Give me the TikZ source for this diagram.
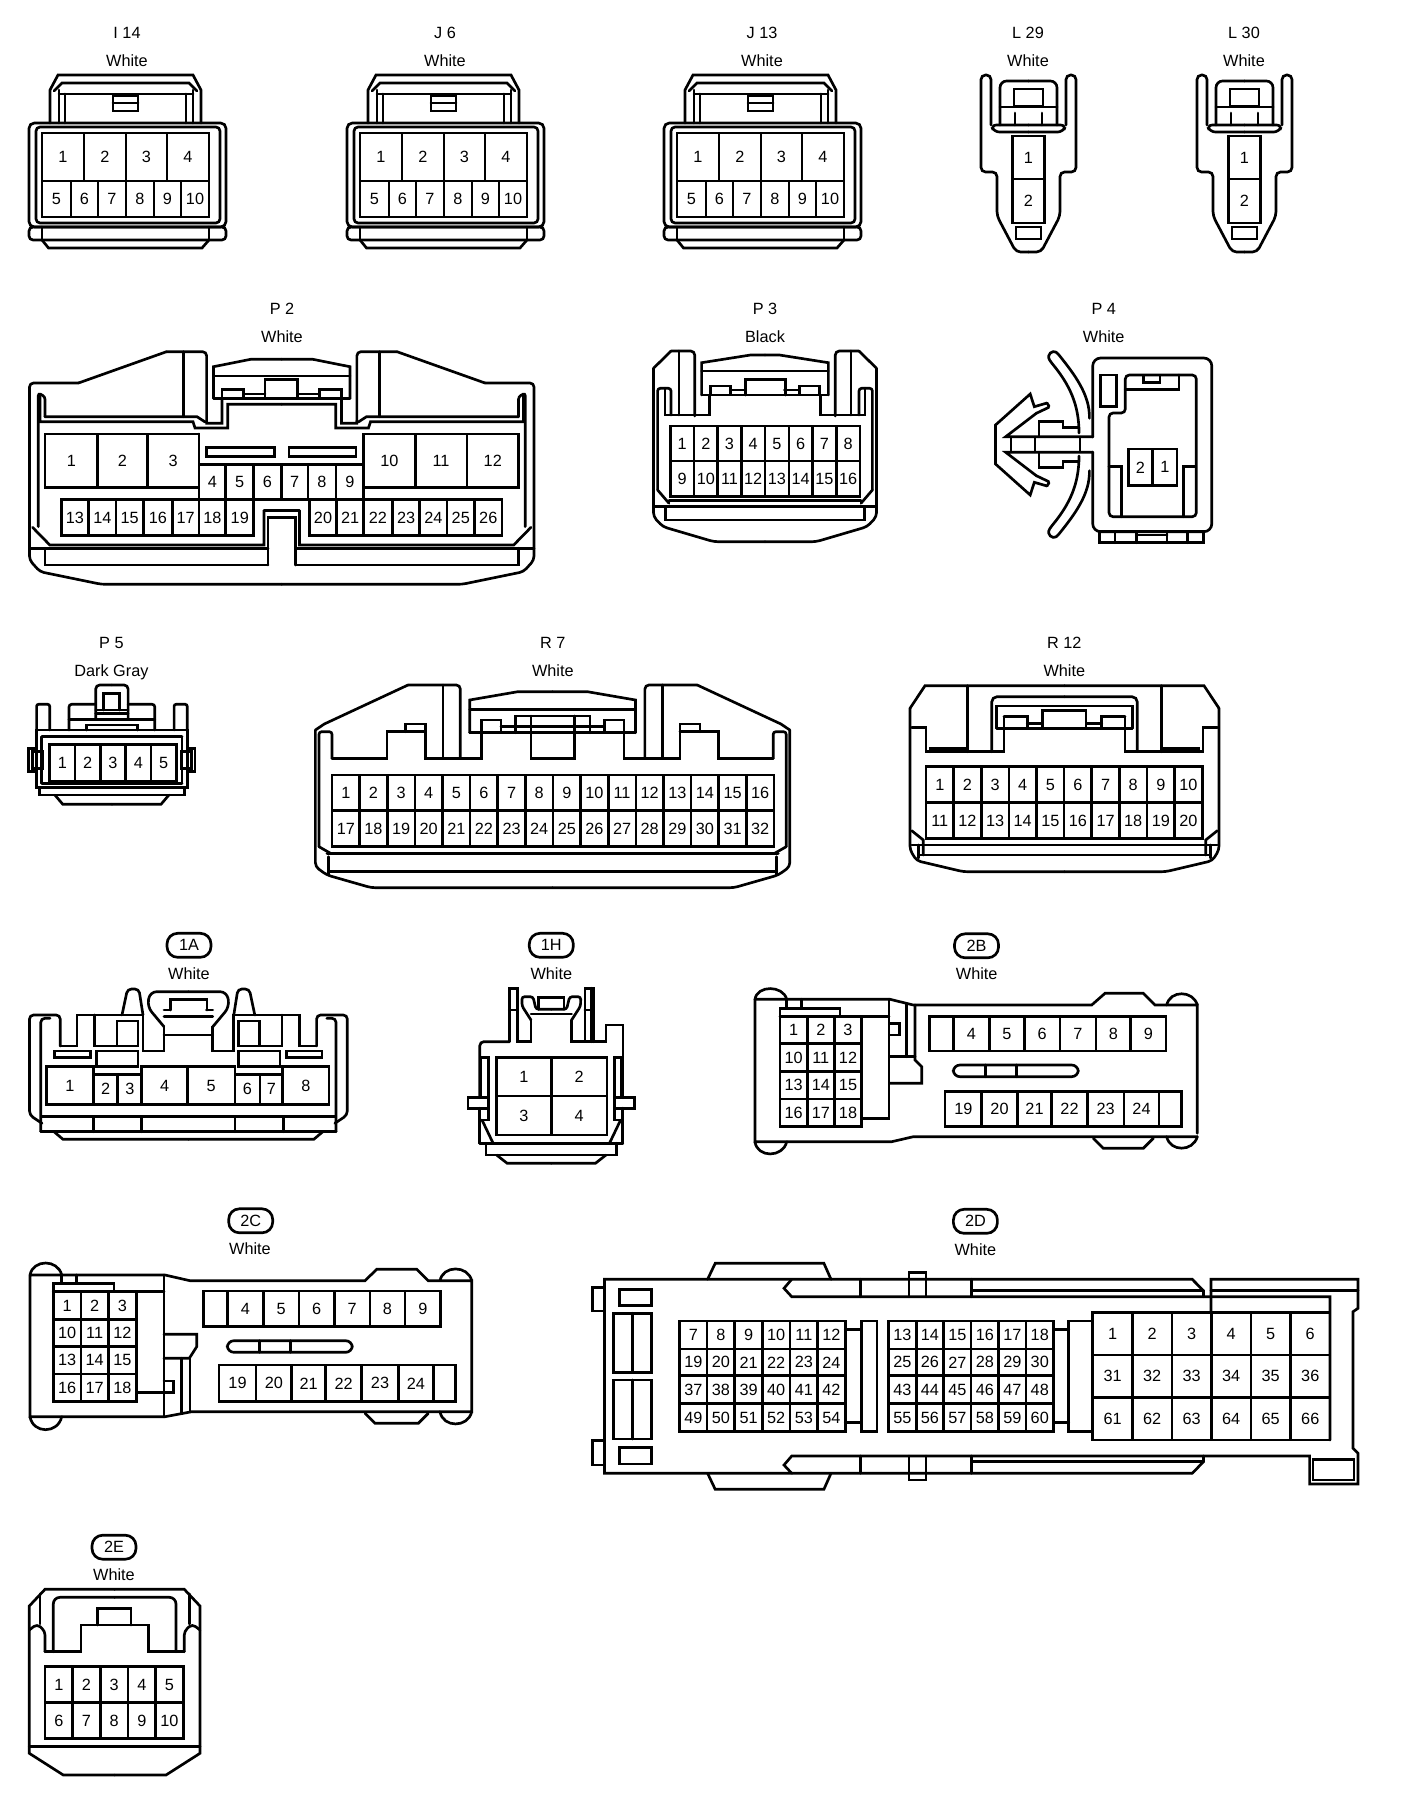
\documentclass[tikz,border=0pt]{standalone}
\usepackage{fontspec}
\setmainfont{Liberation Sans}
\tikzset{
  pin/.style={inner sep=0pt,font=\fontsize{12.2}{14}\selectfont,text=black},
  ttl/.style={inner sep=0pt,font=\fontsize{12.2}{14}\selectfont,text=black,text height=8.8pt,text depth=0pt},
  pill/.style={draw,rounded corners=8pt,inner sep=0pt,minimum width=33pt,minimum height=18pt,font=\fontsize{12.2}{14}\selectfont},
  mirrorat/.style={shift={(#1,0)},xscale=-1},
  mirrory/.style={shift={(0,#1)},yscale=-1},
  conn/.style={line width=2pt,line cap=round,line join=miter,x=0.75pt,y=-0.75pt}
}
\newcommand{\both}[2]{#2\begin{scope}[mirrorat=#1]#2\end{scope}}
\newcommand{\bothy}[2]{#2\begin{scope}[mirrory=#1]#2\end{scope}}
\newcommand{\cells}[3]{\pgfmathsetmacro\cmid{(#1+#2)/2}\foreach \a/\b/\l in {#3}{\pgfmathsetmacro\mx{(\a+\b)/2}\draw (\a,#1) rectangle (\b,#2); \node[pin] (\cname-\l) at (\mx,\cmid) {\l};}}
\newcommand{\ucells}[6]{\pgfmathsetmacro\cmid{(#3+#4)/2}\pgfmathsetmacro\cw{(#2-#1)/#5}\foreach \l [count=\i] in {#6}{\pgfmathsetmacro\xa{#1+(\i-1)*\cw}\pgfmathsetmacro\xb{#1+\i*\cw}\pgfmathsetmacro\mx{#1+(\i-0.5)*\cw}\draw (\xa,#3) rectangle (\xb,#4); \node[pin] (\cname-\l) at (\mx,\cmid) {\l};}}
\newcommand{\phdr}[4]{\node[pill] (#1-id) at (#2,#3) {#4};}
\newcommand{\tenconn}[3]{\begin{scope}[shift={(#2,0)}]\def\cname{#1}
\node[ttl] (#1-id) at (127,33) {#3};
\node[ttl] (#1-col) at (127,61) {White};
\draw (50,123)--(50,90)--(58,75)--(193,75)--(201,90)--(201,123);
\draw (54,91)--(62,83)--(189,83)--(197,91);
\draw (59,123)--(59,90) (65,123)--(65,94) (186,123)--(186,94) (193,123)--(193,90);
\draw (59,94)--(193,94);
\draw (113,96) rectangle (138,111) (113,103)--(138,103);
\draw[rounded corners=4pt] (29,123) rectangle (226,227);
\draw[rounded corners=3pt] (36,127) rectangle (220,223);
\draw[rounded corners=3pt] (29,227) rectangle (226,240);
\draw (42,227)--(42,240) (209,227)--(209,240);
\draw (42,240)--(48.5,248)--(202,248)--(209,240);
\cells{133}{181}{42/84/1,84/126/2,126/167/3,167/209/4}
\cells{181}{217}{42/71/5,71/98/6,98/126/7,126/154/8,154/181/9,181/209/10}
\end{scope}}
\newcommand{\lconn}[3]{\begin{scope}[shift={(#2,0)}]\def\cname{#1}
\node[ttl] (#1-id) at (1028,33) {#3};
\node[ttl] (#1-col) at (1028,61) {White};
\both{2057}{
\draw[rounded corners=3.4pt] (1028.5,252)--(1016,252)--(997,216)--(997,172)--(981,172)--(981,75)--(991,75)--(991,125);
\draw[rounded corners=4pt] (1028.5,125)--(991,125)--(994,132)--(1028.5,132);
\draw[rounded corners=5pt] (1000,125)--(1000,81)--(1028.5,81);
\draw (1015,113)--(1015,125);
\draw (1000,107)--(1028.5,107);
}
\draw (1014,89) rectangle (1043,106);
\cells{136}{179}{1012.5/1044.4/1}
\cells{179}{223}{1012.5/1044.4/2}
\draw (1016,227) rectangle (1041,239);
\end{scope}}
\begin{document}
\begin{tikzpicture}[conn]
\fill[white] (0,0) rectangle (1408,1798);
\useasboundingbox (0,0) rectangle (1408,1798);
% ---- row 1
\tenconn{I14}{0}{I 14}
\tenconn{J6}{318}{J 6}
\tenconn{J13}{635}{J 13}
\lconn{L29}{0}{L 29}
\lconn{L30}{216}{L 30}
% ---- P2
\def\cname{P2}
\node[ttl] (P2-id) at (282,309) {P 2};
\node[ttl] (P2-col) at (282,337) {White};
\both{563.5}{
\draw[rounded corners=3pt] (281.75,584.3)--(101.4,584.3)--(40,571.7)--(29.5,560)--(29.5,383)--(78.5,383);
\draw (78.5,383)--(166.5,351.7);
\draw[rounded corners=3pt] (166.5,351.7)--(206.6,351.7)--(206.6,421.7);
\draw (183.7,351.7)--(183.7,416.7);
\draw[rounded corners=2pt] (38.3,526.7)--(38.3,393)--(45,396.7)--(45,416.7);
\draw (40,396)--(40,421.7)--(193,421.7)--(195,428)--(227.7,428)--(227.7,404.3)--(281.75,404.3);
\draw (45,416.7)--(197,416.7)--(204.7,421.7)--(206.6,421.7)--(206.6,423.3)--(222,423.3)--(222,398.3);
\draw (213.5,398.3)--(213.5,366.7)--(250.7,359.3)--(281.75,359.3);
\draw (213.5,376)--(281.75,376);
\draw (213.5,398.3)--(281.75,398.3);
\draw (222,389.3) rectangle (243.8,398.3);
\draw (243.8,394)--(265,394);
\draw (264,510.7)--(281.75,510.7);
\draw (264,510.7)--(264,545)--(49.8,545)--(32.5,527.3);
\draw (268,565)--(268,517.3)--(281.75,517.3);
\draw (29.5,548.3)--(268,548.3);
\draw (45,548.3)--(45,565)--(268,565);
}
\draw (265,398.3)--(265,379.3)--(297.7,379.3)--(297.7,398.3);
\draw (206.6,447.7) rectangle (274.4,456.7);
\draw (289,447.7) rectangle (356,456.7);
\cells{434}{487.3}{45/97.6/1,97.6/147.3/2,147.3/199/3}
\cells{434}{487.3}{363.6/415.2/10,415.2/466.9/11,466.9/518.6/12}
\draw (199,434)--(199,464.3)--(363.6,464.3);
\cells{464.3}{499.3}{199/225.8/4,225.8/253.7/5,253.7/281.3/6,281.3/308/7,308/336/8,336/363.6/9}
\cells{499.3}{535.7}{61.2/88.8/13,88.8/116/14,116/143.5/15,143.5/172.2/16,172.2/199/17,199/225.8/18,225.8/253.7/19}
\cells{499.3}{535.7}{309.2/336.8/20,336.8/363.6/21,363.6/392.3/22,392.3/419.8/23,419.8/447/24,447/474.5/25,474.5/502/26}
% ---- P3
\def\cname{P3}
\node[ttl] (P3-id) at (765,309) {P 3};
\node[ttl] (P3-col) at (765,337) {Black};
\both{1530}{
\draw[rounded corners=3pt] (765,541.7)--(713.9,541.7)--(662.9,526.7)--(653.5,516.7)--(653.5,368.3);
\draw (653.5,368.3)--(671,351);
\draw[rounded corners=3pt] (671,351)--(694.7,351)--(694.7,416);
\draw (679,351)--(679,415);
\draw[rounded corners=2pt] (657.6,490)--(657.6,388.3)--(671,388.3)--(671,415);
\draw (664.9,388.3)--(664.9,415)--(709.8,415)--(709.8,395);
\draw (657.6,490)--(669,503.3);
\draw (701.6,395)--(701.6,362.7)--(750.6,355)--(765,355);
\draw (701.6,371)--(765,371);
\draw (701.6,395)--(765,395);
\draw (710.6,386) rectangle (730.2,395);
\draw (730.2,390)--(745.7,390);
\draw (653.5,506.7)--(765,506.7);
\draw (665.7,506.7)--(665.7,520)--(765,520);
\draw (669,500.7)--(765,500.7);
}
\draw (745.7,395)--(745.7,379.3)--(785.3,379.3)--(785.3,395);
\ucells{670.2}{860}{426}{461}{8}{1,...,8}
\ucells{670.2}{860}{461}{496.7}{8}{9,...,16}
% ---- P4
\def\cname{P4}
\node[ttl] (P4-id) at (1103.7,309) {P 4};
\node[ttl] (P4-col) at (1103.7,337) {White};
\bothy{889}{
\draw[rounded corners=1.5pt] (1079,433) .. controls (1079,405) and (1070,385) .. (1050.6,361.7) .. controls (1046,354) and (1053,350) .. (1057.6,353.3) .. controls (1075,375) and (1090,395) .. (1089.4,418.3);
\draw (995.5,444.5)--(995.5,425)--(1030.2,394)--(1034.3,406.7)--(1047,403);
\draw[rounded corners=1pt] (1047,403)--(1049.5,407)--(1036.3,413.3);
\draw (1036.3,413.3)--(1005.7,436.7)--(1092.7,436.7);
\draw (1039,436.7)--(1039,421.7)--(1062.9,421.7)--(1062.9,427.3)--(1079,427.3);
}
\draw[rounded corners=6pt] (1092.7,437)--(1092.7,358)--(1211.8,358)--(1211.8,531.7)--(1092.7,531.7)--(1092.7,452);
\draw (1011,437)--(1011,452) (1035,437)--(1035,452) (1080,437)--(1080,452);
\draw[rounded corners=3pt] (1125.3,389)--(1125.3,375)--(1196.3,375)--(1196.3,516.7)--(1109,516.7)--(1109,413)--(1125.3,413)--(1125.3,389);
\draw (1125.3,389.3)--(1179,389.3)--(1179,375);
\draw (1100.8,375) rectangle (1116.7,406.7);
\draw (1143.7,376)--(1143.7,382.3)--(1160,382.3)--(1160,376);
\draw (1109,466.7)--(1121.2,466.7)--(1121.2,516.7);
\draw (1195.5,466.7)--(1183.3,466.7)--(1183.3,516.7);
\cells{449}{485.7}{1128.2/1152.7/2,1152.7/1177/1}
\draw (1099.6,531.7) rectangle (1203.7,542.7);
\draw (1115,531.7)--(1115,542.7) (1136.3,531.7)--(1136.3,542.7) (1167,531.7)--(1167,542.7) (1187.3,531.7)--(1187.3,542.7);
\draw (1136.3,535)--(1167,535);
% ---- P5
\def\cname{P5}
\node[ttl] (P5-id) at (111.4,642.7) {P 5};
\node[ttl] (P5-col) at (111.4,670.7) {Dark Gray};
\both{223.8}{
\draw (111.9,730)--(36.6,730)--(36.6,787.7)--(111.9,787.7);
\draw (41.8,736.7)--(41.8,783.3) (41.8,736.7)--(111.9,736.7) (41.8,783.3)--(111.9,783.3);
\draw (28.8,748.3) rectangle (36.6,771.7);
\draw (32.4,751.7) rectangle (42.9,768.3);
\draw (39.2,787.7)--(39.2,795)--(111.9,795);
\draw (54.9,795)--(62.8,804.3)--(111.9,804.3);
\draw[rounded corners=1.5pt] (36.6,730)--(36.6,704.3)--(49.7,704.3)--(49.7,730);
\draw[rounded corners=2pt] (69,730)--(69,704.3)--(95.7,704.3);
\draw (69,719.3)--(111.9,719.3);
\draw[rounded corners=3pt] (95.7,719.3)--(95.7,685)--(111.9,685);
\draw (86.3,730)--(86.3,725)--(111.9,725);
\draw (95.7,710)--(111.9,710);
\draw (95.7,713.3)--(111.9,713.3);
}
\draw (103.6,710)--(103.6,693.3)--(119.2,693.3)--(119.2,710);
\ucells{49.7}{176.3}{744.3}{781}{5}{1,...,5}
% ---- R7
\def\cname{R7}
\node[ttl] (R7-id) at (552.8,642.7) {R 7};
\node[ttl] (R7-col) at (552.8,670.7) {White};
\both{1105.2}{
\draw[rounded corners=3pt] (552.6,887.7)--(371.3,887.7)--(326.9,875)--(315.4,866.7)--(315.4,730);
\draw (315.4,730)--(324.3,724)--(408,685);
\draw[rounded corners=3pt] (408,685)--(460.3,685)--(460.3,757.3);
\draw (443,685)--(443,757.3);
\draw[rounded corners=2pt] (319,846.7)--(319,731.7)--(332,731.7)--(332,758.3);
\draw (332,758.3)--(387,758.3)--(387,731.7)--(425.2,731.7);
\draw (405.3,731.7)--(405.3,724)--(425.2,724)--(425.2,758.3)--(481.2,758.3)--(481.2,732.7);
\draw (469.7,732.7)--(469.7,700)--(517.8,691.7)--(552.6,691.7);
\draw (469.7,709.3)--(552.6,709.3);
\draw (469.7,732.7)--(515.2,732.7);
\draw (481.2,720) rectangle (501,732.7);
\draw (501,726.7)--(515.2,726.7);
\draw (515.2,732.7)--(515.2,716)--(552.6,716);
\draw (530.9,716)--(530.9,758.3)--(552.6,758.3);
\draw (515.2,726.7)--(552.6,726.7);
\draw (515.2,732.7)--(552.6,732.7);
\draw (319,846.7)--(330.5,853.3);
\draw (327,853.3)--(552.6,853.3);
\draw (328.5,856.7)--(328.5,875);
\draw (328.5,871.7)--(552.6,871.7);
}
\ucells{332}{774}{775}{810.7}{16}{1,...,16}
\ucells{332}{774}{810.7}{846.7}{16}{17,...,32}
% ---- R12
\def\cname{R12}
\node[ttl] (R12-id) at (1064.3,643) {R 12};
\node[ttl] (R12-col) at (1064.3,670.5) {White};
\both{2129}{
\draw[rounded corners=3pt] (1064.5,871.7)--(963.3,871.7)--(916.7,860.7)--(910,850)--(910,708.3);
\draw (910,708.3)--(925,685.7)--(1064.5,685.7);
\draw (911.7,727.3)--(926,727.3)--(926,751.7)--(1004,751.7)--(1004,716.7);
\draw (967.3,685.7)--(967.3,751.7);
\draw[rounded corners=4pt] (991.7,751.7)--(991.7,696.7)--(1064.5,696.7);
\draw (996.7,728.3)--(996.7,706)--(1064.5,706);
\draw (996.7,728.3)--(1064.5,728.3);
\draw (1004,716.7)--(1027.3,716.7)--(1027.3,728.3);
\draw (1027.3,723.3)--(1042.3,723.3);
\draw (930,751.7)--(930,748.3)--(967.3,748.3);
\draw (911.7,830.7)--(923.3,840)--(923.3,855);
\draw (918.3,845)--(918.3,858);
\draw (911.7,845)--(1064.5,845);
\draw (918.3,855)--(1064.5,855);
}
\draw (1042.3,728.3)--(1042.3,710.7)--(1086,710.7)--(1086,728.3);
\ucells{926}{1202.3}{766.7}{802.7}{10}{1,...,10}
\ucells{926}{1202.3}{802.7}{838.3}{10}{11,...,20}
% ---- 1A
\def\cname{1A}
\phdr{1A}{189}{945.3}{1A}
\node[ttl] (1A-col) at (189,973.3) {White};
\both{376.8}{
\draw[rounded corners=3pt] (42,1123.3)--(29.5,1115)--(29.5,1015)--(60.2,1015)--(60.2,1046);
\draw (60.2,1046)--(77,1046)--(77,1015)--(122,1015);
\draw[rounded corners=3pt] (122,1015)--(127.5,989)--(138.9,989)--(143,1015);
\draw (122,1015)--(143,1015)--(143,1051)--(164,1051)--(164,1026.7);
\draw[rounded corners=5pt] (164,1026.7)--(147.3,1006.7)--(150,991.7)--(188.4,991.7);
\draw (164,1010)--(170.5,1010);
\draw (164,1016.7)--(188.4,1016.7);
\draw (164,1035)--(188.4,1035);
\draw (164,1026.7)--(164,1035);
\draw[rounded corners=3pt] (40.8,1131.7)--(40.8,1018.3)--(50,1018.3);
\draw (40.8,1131.7)--(188.4,1131.7);
\draw (54,1131.7)--(63,1139.3)--(188.4,1139.3);
\draw (42,1116.7)--(188.4,1116.7);
\draw (93.4,1116.7)--(93.4,1131.7) (141.8,1116.7)--(141.8,1131.7);
\draw (94.7,1015)--(94.7,1046)--(117,1046);
\draw (117,1021) rectangle (138,1046);
\draw (54.7,1051) rectangle (90.5,1057.7);
\draw (96.8,1051) rectangle (138,1066.7);
}
\draw (170.5,1010)--(170.5,999.3)--(207,999.3)--(207,1010);
\cells{1066.7}{1104.3}{46.3/93.4/1,141.8/187.3/4,187.3/234.9/5,282.8/329/8}
\cells{1074.3}{1104.3}{93.4/117.8/2,117.8/141.8/3,234.9/260/6,260/282.8/7}
% ---- 1H
\def\cname{1H}
\phdr{1H}{551.3}{945.3}{1H}
\node[ttl] (1H-col) at (551.3,973.3) {White};
\both{1102.6}{
\draw (509.3,1041.7)--(509.3,988.3)--(517.7,988.3)--(517.7,1041.7)--(531,1041.7)--(531,1020);
\draw (509.3,1010)--(517.7,1010);
\draw[rounded corners=2pt] (531,1020)--(522,1006)--(521.9,996.7)--(533,996.7)--(536,1009.3)--(551.3,1009.3);
\draw (531,1014)--(551.3,1014);
\draw (538.7,1009.3)--(538.7,997.3)--(551.3,997.3);
\draw (481,1057.3) rectangle (488.2,1097.7);
\draw (468,1097.7) rectangle (488.2,1108.3);
\draw (488.2,1108.3)--(488.2,1120)--(481,1120);
\draw (482,1120)--(493,1143);
\draw (486,1143.3)--(486,1155)--(551.3,1155);
\draw (496.6,1155)--(507.2,1163.3)--(551.3,1163.3);
\draw (479.8,1143.3)--(551.3,1143.3);
\draw (479.8,1143.3)--(479.8,1108.3);
}
\draw[rounded corners=3pt] (479.8,1097.7)--(479.8,1041.7)--(509.3,1041.7);
\draw (585,1041.7)--(606,1041.7)--(606,1025)--(622.9,1025)--(622.9,1097.7);
\draw (622.9,1108.3)--(622.9,1143.3);
\draw (591.3,1041.7)--(591.3,988.3);
\cells{1057.3}{1096}{496.6/551.3/1,551.3/606.9/2}
\cells{1096}{1135}{496.6/551.3/3,551.3/606.9/4}
% ---- 2B
\def\cname{2B}
\phdr{2B}{976.5}{945.8}{2B}
\node[ttl] (2B-col) at (976.7,973.3) {White};
\draw (755,999.3)--(890,999.3)--(913.3,1005)--(1091.7,1005)--(1105,993.3)--(1143.3,993.3)--(1155,1005)--(1197.3,1005)--(1197.3,1133.3);
\draw (1197.3,1136.7)--(913.3,1136.7)--(891.7,1141.7)--(755,1141.7)--(755,999.3);
\draw (755,999.3) .. controls (757,985) and (783,985) .. (786.7,999.3);
\draw (755,1141.7) .. controls (757,1158) and (783,1158) .. (786.7,1141.7);
\draw (1166.7,1005) .. controls (1170,990) and (1193,990) .. (1197.3,1005);
\draw (1166.7,1136.7) .. controls (1170,1152) and (1193,1152) .. (1197.3,1136.7);
\draw (1093.3,1138.3)--(1103.3,1148.3)--(1143.3,1148.3)--(1153.3,1138.3);
\draw (780,1016.7) rectangle (840,1008.3);
\draw (786.7,999.3)--(786.7,1008.3) (801.7,999.3)--(801.7,1008.3);
\draw (780,1016.7)--(889,1016.7);
\draw (889,999.3)--(889,1118.3)--(861.7,1118.3);
\draw (890,1023.3)--(899.3,1023.3)--(899.3,1035)--(890,1035);
\draw (906.7,1003.5)--(906.7,1056.7);
\draw (915,1005)--(915,1060)--(921.7,1066.7)--(921.7,1083.3)--(890,1083.3);
\draw (890,1056.7)--(915,1056.7);
\cells{1016.7}{1043.3}{780/807.3/1,807.3/834.3/2,834.3/861.7/3}
\cells{1043.3}{1071.7}{780/807.3/10,807.3/834.3/11,834.3/861.7/12}
\cells{1071.7}{1099}{780/807.3/13,807.3/834.3/14,834.3/861.7/15}
\cells{1099}{1126.7}{780/807.3/16,807.3/834.3/17,834.3/861.7/18}
\draw (929.3,1016.7) rectangle (953.3,1051);
\cells{1016.7}{1051}{953.3/989.3/4,989.3/1024.3/5,1024.3/1060/6,1060/1096/7,1096/1130.7/8,1130.7/1166/9}
\draw[rounded corners=5pt] (953.3,1065) rectangle (1078.3,1076.7);
\draw (985.7,1065)--(985.7,1076.7) (1016.7,1065)--(1016.7,1076.7);
\cells{1091.7}{1126.7}{945/981.7/19,981.7/1017.3/20,1017.3/1051.7/21,1051.7/1087.3/22,1087.3/1124/23,1124/1159/24}
\draw (1159,1091.7) rectangle (1181.7,1126.7);
% ---- 2C
\def\cname{2C}
\phdr{2C}{250.7}{1220.8}{2C}
\node[ttl] (2C-col) at (250,1249) {White};
\draw (30,1275)--(165,1275)--(190,1280.7)--(365,1280.7)--(376.7,1269.3)--(416.7,1269.3)--(428.3,1280.7)--(471.7,1280.7)--(471.7,1411.7)--(191.7,1411.7)--(165,1416.7)--(30,1416.7)--(30,1275);
\draw (30,1275) .. controls (33,1259) and (58,1259) .. (61.7,1275);
\draw (30,1416.7) .. controls (33,1434) and (58,1434) .. (61.7,1416.7);
\draw (440,1280.7) .. controls (443,1265) and (468,1265) .. (471.7,1280.7);
\draw (440,1411.7) .. controls (443,1428) and (468,1428) .. (471.7,1411.7);
\draw (365,1413.3)--(375,1423.3)--(418.3,1423.3)--(428.3,1413.3);
\draw (53.3,1283.3) rectangle (114,1291.7);
\draw (61.7,1275)--(61.7,1283.3) (76.7,1275)--(76.7,1283.3);
\draw (53.3,1291.7)--(164,1291.7);
\draw (164,1275)--(164,1416.7);
\draw (136.7,1392.7)--(164,1392.7);
\draw (164,1381)--(173.3,1381)--(173.3,1392.7)--(164,1392.7);
\draw (164,1334.3)--(196.7,1334.3)--(196.7,1346.7)--(189.3,1358.3)--(164,1358.3);
\draw (181.7,1358.3)--(181.7,1413) (190,1358.3)--(190,1411.7);
\cells{1291.7}{1319.3}{53.3/81/1,81/108.3/2,108.3/136.7/3}
\cells{1319.3}{1346.7}{53.3/81/10,81/108.3/11,108.3/136.7/12}
\cells{1346.7}{1374}{53.3/81/13,81/108.3/14,108.3/136.7/15}
\cells{1374}{1401.7}{53.3/81/16,81/108.3/17,108.3/136.7/18}
\draw (203.3,1291) rectangle (227.7,1326.7);
\cells{1291}{1326.7}{227.7/263.3/4,263.3/299/5,299/334.3/6,334.3/370/7,370/405/8,405/440.7/9}
\draw[rounded corners=5pt] (227.3,1340.7) rectangle (352.3,1352.3);
\draw (259.3,1340.7)--(259.3,1352.3) (290.7,1340.7)--(290.7,1352.3);
\cells{1365}{1401.7}{219/256/19,256/291.7/20,291.7/325.7/21,325.7/361.7/22,361.7/398.3/23,398.3/433.3/24}
\draw (433.3,1365) rectangle (455.7,1401.7);
% ---- 2D
\def\cname{2D}
\phdr{2D}{975.4}{1221.3}{2D}
\node[ttl] (2D-col) at (975.4,1249.3) {White};
\draw (1192.2,1473.3)--(604.5,1473.3)--(604.5,1279.3)--(1192.2,1279.3)--(1203.5,1290.7)--(1203.5,1296.7);
\draw (1211,1313.3)--(1211,1279.3)--(1358,1279.3)--(1358,1308.3)--(1353,1311.7)--(1353,1448.3)--(1358,1453.3)--(1358,1484)--(1309.6,1484)--(1309.6,1456)--(791.7,1456)--(784,1465)--(791.7,1473.3);
\draw (1192.2,1473.3)--(1203.5,1461.7)--(1203.5,1456);
\draw (971.8,1290.7)--(1203.5,1290.7) (1211,1290.7)--(1358,1290.7);
\draw (1330,1440)--(1330,1296.7)--(791.7,1296.7)--(784,1288.3)--(791.7,1279.3);
\draw (860.6,1279.3)--(860.6,1296.7) (971.8,1279.3)--(971.8,1296.7);
\draw (909,1296.7)--(909,1272.7)--(926,1272.7)--(926,1296.7);
\draw (971.8,1461.7)--(1203.5,1461.7);
\draw (860.6,1456)--(860.6,1473.3) (971.8,1456)--(971.8,1473.3);
\draw (909,1456)--(909,1480)--(926,1480)--(926,1456);
\draw (707.6,1279.3)--(715.2,1263.3)--(823.9,1263.3)--(831,1279.3);
\draw (707.6,1473.3)--(715.2,1489.3)--(823.9,1489.3)--(831,1473.3);
\draw (604.5,1287.3)--(592.8,1287.3)--(592.8,1311)--(604.5,1311);
\draw (604.5,1440.7)--(592.8,1440.7)--(592.8,1465)--(604.5,1465);
\draw (619.8,1289.3) rectangle (651.4,1305.7);
\draw (619.8,1447.3) rectangle (651.4,1464);
\draw (613.2,1313.3) rectangle (651.4,1372.3) (632.6,1313.3)--(632.6,1372.3);
\draw (613.2,1380) rectangle (651.4,1439) (632.6,1380)--(632.6,1439);
\draw (1313,1459.3) rectangle (1354,1480);
\ucells{679.5}{845.3}{1321}{1349}{6}{7,...,12}
\ucells{679.5}{845.3}{1349}{1375.7}{6}{19,...,24}
\ucells{679.5}{845.3}{1375.7}{1403.3}{6}{37,...,42}
\ucells{679.5}{845.3}{1403.3}{1431.7}{6}{49,...,54}
\ucells{888.7}{1053.5}{1321}{1349}{6}{13,...,18}
\ucells{888.7}{1053.5}{1349}{1375.7}{6}{25,...,30}
\ucells{888.7}{1053.5}{1375.7}{1403.3}{6}{43,...,48}
\ucells{888.7}{1053.5}{1403.3}{1431.7}{6}{55,...,60}
\draw (861.6,1321) rectangle (877,1431.7);
\draw (845.3,1329.3)--(861.6,1329.3) (845.3,1422.7)--(861.6,1422.7);
\draw (1068.8,1321) rectangle (1092.8,1431.7);
\draw (1053.5,1329.3)--(1068.8,1329.3) (1053.5,1422.7)--(1068.8,1422.7);
\ucells{1092.8}{1330}{1312.7}{1355}{6}{1,...,6}
\ucells{1092.8}{1330}{1355}{1397.3}{6}{31,...,36}
\ucells{1092.8}{1330}{1397.3}{1440}{6}{61,...,66}
% ---- 2E
\def\cname{2E}
\phdr{2E}{114}{1547.2}{2E}
\node[ttl] (2E-col) at (114,1575) {White};
\both{229.3}{
\draw (114.65,1589.3)--(45,1589.3)--(29.3,1606)--(29.3,1753.3)--(63.3,1775)--(114.65,1775);
\draw (29.3,1746.7)--(114.65,1746.7);
\draw (40,1594)--(40,1624);
\draw[rounded corners=3pt] (29.3,1630)--(37,1624)--(45,1631)--(45,1651.7);
\draw (45,1651.7)--(81,1651.7)--(81,1625)--(114.65,1625);
\draw[rounded corners=5pt] (53.3,1651.7)--(53.3,1597.3)--(114.65,1597.3);
}
\draw (97.3,1625)--(97.3,1608.3)--(131,1608.3)--(131,1625);
\ucells{45}{183.3}{1666.7}{1702.7}{5}{1,...,5}
\ucells{45}{183.3}{1702.7}{1738.3}{5}{6,...,10}
\end{tikzpicture}
\end{document}
